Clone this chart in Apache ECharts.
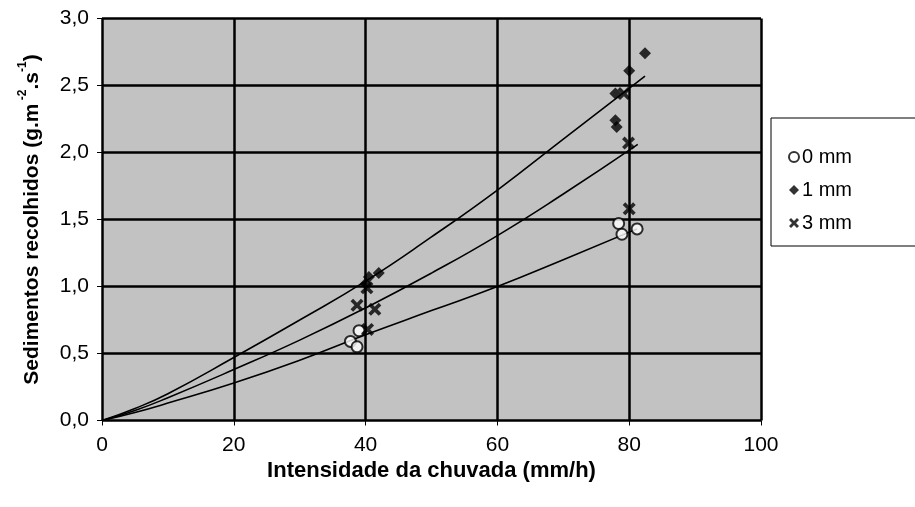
<!DOCTYPE html>
<html>
<head>
<meta charset="utf-8">
<script src="https://cdn.jsdelivr.net/npm/echarts@6/dist/echarts.min.js"></script>
<style>
  html, body { margin: 0; padding: 0; background: #fff; }
  #chart { width: 915px; height: 507px; }
</style>
</head>
<body>
<div id="chart"></div>
<script>
// Axis ticks
const xTicks = [0, 20, 40, 60, 80, 100];
const yTicks = [0, 0.5, 1.0, 1.5, 2.0, 2.5, 3.0];

// Measured points: [rain intensity (mm/h), sediment (g.m-2.s-1)]
const pts0mm = [[37.7, 0.59], [38.7, 0.55], [39.0, 0.67], [78.4, 1.47], [78.9, 1.39], [81.2, 1.43]];
const pts1mm = [[40.0, 1.02], [40.5, 1.07], [42.0, 1.10], [77.9, 2.44], [77.9, 2.24], [78.1, 2.19], [80.0, 2.61], [82.4, 2.74]];
const pts3mm = [[38.7, 0.86], [41.4, 0.83], [40.3, 0.68], [40.2, 0.99], [79.2, 2.44], [79.9, 2.07], [80.0, 1.58]];

// Trend curves
const trend0mm = [[0, 0], [5, 0.06], [10, 0.13], [20, 0.28], [30, 0.45], [40, 0.64], [50, 0.82], [60, 1.0], [70, 1.2], [81.2, 1.43]];
const trend1mm = [[0, 0], [5, 0.09], [10, 0.2], [20, 0.47], [30, 0.75], [40, 1.04], [50, 1.37], [60, 1.72], [70, 2.1], [82.4, 2.57]];
const trend3mm = [[0, 0], [5, 0.075], [10, 0.17], [20, 0.38], [30, 0.6], [40, 0.84], [50, 1.1], [60, 1.38], [70, 1.69], [81.3, 2.06]];

const FONT = '"Liberation Sans", Arial, sans-serif';
const crossPath = 'path://M0,2 L2,0 L5,3 L8,0 L10,2 L7,5 L10,8 L8,10 L5,7 L2,10 L0,8 L3,5 Z';

const chart = echarts.init(document.getElementById('chart'), null, { renderer: 'canvas' });

function trendSeries(data) {
  return {
    type: 'line',
    data: data,
    smooth: true,
    showSymbol: false,
    silent: true,
    lineStyle: { color: '#000', width: 1.6 },
    z: 3
  };
}

chart.setOption({
  animation: false,
  backgroundColor: '#fff',
  textStyle: { fontFamily: FONT, color: '#000' },
  grid: {
    left: 102, right: 154, top: 18.5, bottom: 86.5,
    show: true, backgroundColor: '#c2c2c2', borderWidth: 0
  },
  legend: {
    orient: 'vertical',
    left: 771, top: 118,
    padding: [29, 80, 13, 17],
    itemGap: 13,
    itemWidth: 10, itemHeight: 10,
    backgroundColor: '#fff',
    borderColor: '#000', borderWidth: 1, borderRadius: 0,
    textStyle: { fontFamily: FONT, fontSize: 20, lineHeight: 20, color: '#000', padding: [0, 0, 0, -2] },
    data: ['0 mm', '1 mm', '3 mm']
  },
  xAxis: {
    type: 'value',
    min: xTicks[0], max: xTicks[xTicks.length - 1], interval: 20,
    name: 'Intensidade da chuvada (mm/h)',
    nameLocation: 'middle', nameGap: 39,
    nameTextStyle: { fontFamily: FONT, fontSize: 22, fontWeight: 'bold', color: '#000' },
    axisLine: { show: true, onZero: false, lineStyle: { color: '#000', width: 1 } },
    axisTick: { show: true, inside: false, length: 5, lineStyle: { color: '#000' } },
    axisLabel: { fontFamily: FONT, fontSize: 21, color: '#000', margin: 14 },
    splitLine: { show: true, lineStyle: { color: '#000', width: 2.5 } }
  },
  yAxis: {
    type: 'value',
    min: yTicks[0], max: yTicks[yTicks.length - 1], interval: 0.5,
    name: '{t|Sedimentos recolhidos (g.m}{s| -2}{t|.s}{s|-1}{t|)}',
    nameLocation: 'middle', nameGap: 59, nameRotate: 90,
    nameTextStyle: {
      fontFamily: FONT, fontWeight: 'bold', color: '#000',
      rich: {
        t: { fontFamily: FONT, fontSize: 21, fontWeight: 'bold', color: '#000', lineHeight: 26, verticalAlign: 'bottom' },
        s: { fontFamily: FONT, fontSize: 12, fontWeight: 'bold', color: '#000', lineHeight: 26, verticalAlign: 'top' }
      }
    },
    axisLine: { show: true, lineStyle: { color: '#000', width: 1 } },
    axisTick: { show: true, inside: false, length: 5, lineStyle: { color: '#000' } },
    axisLabel: {
      fontFamily: FONT, fontSize: 21, color: '#000', margin: 13,
      formatter: v => v.toFixed(1).replace('.', ',')
    },
    splitLine: { show: true, lineStyle: { color: '#000', width: 2.5 } }
  },
  series: [
    trendSeries(trend0mm),
    trendSeries(trend1mm),
    trendSeries(trend3mm),
    {
      name: '0 mm', type: 'scatter', data: pts0mm,
      symbol: 'emptyCircle', symbolSize: 11,
      itemStyle: { color: '#000', borderColor: '#000', borderWidth: 2.2 },
      z: 5
    },
    {
      name: '1 mm', type: 'scatter', data: pts1mm,
      symbol: 'diamond', symbolSize: 12,
      itemStyle: { color: '#000' },
      z: 5
    },
    {
      name: '3 mm', type: 'scatter', data: pts3mm,
      symbol: crossPath, symbolSize: 13,
      itemStyle: { color: '#000' },
      z: 5
    }
  ]
});
</script>
</body>
</html>
